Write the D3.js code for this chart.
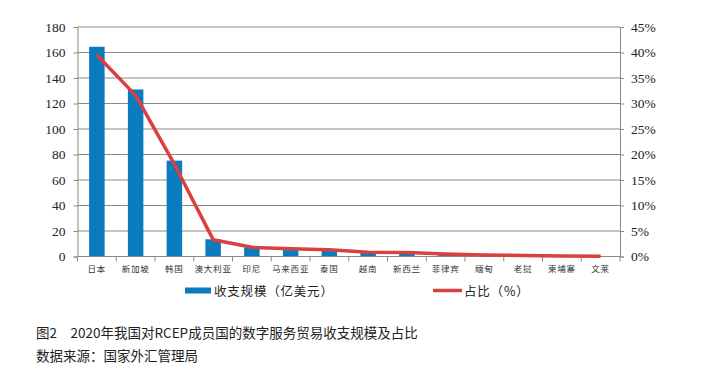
<!DOCTYPE html>
<html>
<head>
<meta charset="utf-8">
<script src="https://cdn.jsdelivr.net/npm/d3@7"></script>
<style>
  body { margin: 0; background: #fff; }
  svg { display: block; }
  .num text { font-family: "Liberation Serif", "DejaVu Serif", serif; font-size: 13.5px; fill: #222; }
</style>
</head>
<body>
<div id="chart"></div>
<script>
// Data
const countries = ["日本", "新加坡", "韩国", "澳大利亚", "印尼", "马来西亚", "泰国", "越南", "新西兰", "菲律宾", "缅甸", "老挝", "柬埔寨", "文莱"];
const scale = [164.5, 131, 75.2, 13.5, 7, 6, 5.5, 3.3, 3.2, 1.6, 0.6, 0.4, 0.2, 0.05];
const share = [39.5, 31.6, 18.1, 3.3, 1.8, 1.5, 1.3, 0.85, 0.8, 0.5, 0.3, 0.2, 0.1, 0.03];
const leftTicks = [0, 20, 40, 60, 80, 100, 120, 140, 160, 180];
const rightTicks = [0, 5, 10, 15, 20, 25, 30, 35, 40, 45];

const width = 719, height = 387;
const plot = { left: 77.5, right: 620, top: 27, bottom: 256.5 };
const barColor = "#0a7bbf", lineColor = "#d9413f", gridColor = "#8a8a8a";

const svg = d3.select("#chart").append("svg")
    .attr("width", width).attr("height", height);

const x = d3.scaleBand().domain(countries).range([plot.left, plot.right]).paddingInner(0.6).paddingOuter(0.3);
const band = d3.scaleBand().domain(countries).range([plot.left, plot.right]);
const y = d3.scaleLinear().domain([0, 180]).range([plot.bottom, plot.top]);
const y2 = d3.scaleLinear().domain([0, 45]).range([plot.bottom, plot.top]);

// gridlines
svg.append("g").selectAll("line").data(leftTicks.slice(1)).join("line")
    .attr("x1", plot.left).attr("x2", plot.right)
    .attr("y1", d => y(d)).attr("y2", d => y(d))
    .attr("stroke", gridColor).attr("stroke-width", 1);

// left axis
const yAxis = svg.append("g")
    .attr("class", "num")
    .attr("transform", `translate(${plot.left},0)`)
    .call(d3.axisLeft(y).tickValues(leftTicks).tickSize(4).tickPadding(8));
yAxis.select(".domain").attr("stroke", gridColor);
yAxis.selectAll(".tick line").attr("stroke", gridColor);

// right axis
const y2Axis = svg.append("g")
    .attr("class", "num")
    .attr("transform", `translate(${plot.right},0)`)
    .call(d3.axisRight(y2).tickValues(rightTicks).tickFormat(d => d + "%").tickSize(4).tickPadding(7));
y2Axis.select(".domain").attr("stroke", gridColor);
y2Axis.selectAll(".tick line").attr("stroke", gridColor);

// bars
svg.append("g").selectAll("rect").data(countries).join("rect")
    .attr("x", d => x(d))
    .attr("width", x.bandwidth())
    .attr("y", (d, i) => y(scale[i]))
    .attr("height", (d, i) => y(0) - y(scale[i]))
    .attr("fill", barColor);

// x axis
svg.append("line")
    .attr("x1", plot.left).attr("x2", plot.right)
    .attr("y1", plot.bottom).attr("y2", plot.bottom)
    .attr("stroke", gridColor);
svg.append("g").selectAll("line").data(d3.range(countries.length + 1)).join("line")
    .attr("x1", i => plot.left + i * band.step()).attr("x2", i => plot.left + i * band.step())
    .attr("y1", plot.bottom).attr("y2", plot.bottom + 5)
    .attr("stroke", gridColor);
svg.append("g").selectAll("text").data(countries).join("text")
    .attr("x", d => band(d) + band.bandwidth() / 2)
    .attr("y", 272)
    .attr("text-anchor", "middle")
    .attr("font-family", "'Noto Sans CJK SC', sans-serif")
    .attr("font-size", 8.5)
    .attr("letter-spacing", 0.8)
    .attr("fill", "#333")
    .text(d => d);

// share line
const line = d3.line()
    .x((d, i) => band(countries[i]) + band.bandwidth() / 2)
    .y(d => y2(d));
svg.append("path").datum(share)
    .attr("d", line)
    .attr("fill", "none")
    .attr("stroke", lineColor)
    .attr("stroke-width", 3.5)
    .attr("stroke-linejoin", "round");

// legend
const legend = svg.append("g").attr("font-family", "'Noto Sans CJK SC', sans-serif").attr("font-size", 12.5).attr("fill", "#222");
legend.append("rect").attr("x", 185).attr("y", 287.5).attr("width", 26).attr("height", 6).attr("fill", barColor);
legend.append("text").attr("x", 214).attr("y", 295.5).attr("letter-spacing", 0.8).text("收支规模（亿美元）");
legend.append("line").attr("x1", 433).attr("x2", 462).attr("y1", 290.5).attr("y2", 290.5)
    .attr("stroke", lineColor).attr("stroke-width", 3.5);
legend.append("text").attr("x", 464).attr("y", 295.5).attr("letter-spacing", 0.8).text("占比（%）");

// caption
const caption = svg.append("g").attr("font-family", "'Noto Sans CJK SC', sans-serif").attr("fill", "#222");
caption.append("text").attr("x", 36).attr("y", 338).attr("font-size", 13.5).text("图2　2020年我国对RCEP成员国的数字服务贸易收支规模及占比");
caption.append("text").attr("x", 36).attr("y", 361).attr("font-size", 13.5).text("数据来源：国家外汇管理局");
</script>
</body>
</html>
